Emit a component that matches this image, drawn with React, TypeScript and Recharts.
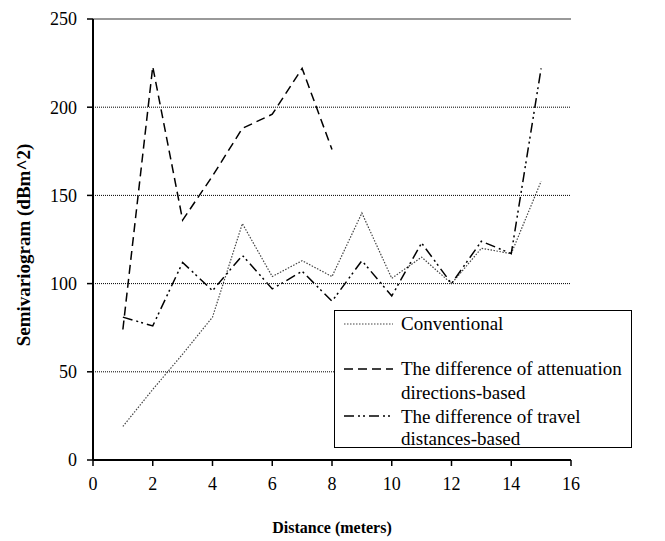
import React from "react";
import {
  LineChart,
  Line,
  XAxis,
  YAxis,
  CartesianGrid,
  ReferenceLine,
  Legend,
} from "recharts";

// Lag distances (meters)
const distances = [1, 2, 3, 4, 5, 6, 7, 8, 9, 10, 11, 12, 13, 14, 15];

// Semivariogram values (dBm^2) per method
const conventional = [19, 40, 60, 81, 134, 104, 113, 104, 140, 103, 115, 100, 120, 117, 158];
const attenuationBased = [74, 223, 136, 161, 188, 196, 222, 176];
const travelBased = [81, 76, 112, 96, 116, 97, 107, 90, 113, 93, 123, 100, 124, 117, 222];

const xTicks = [0, 2, 4, 6, 8, 10, 12, 14, 16];
const yTicks = [0, 50, 100, 150, 200, 250];

const seriesNames = {
  conventional: "Conventional",
  attenuation: ["The difference of attenuation", "directions-based"],
  travel: ["The difference of travel", "distances-based"],
};

const data = distances.map((d, i) => ({
  distance: d,
  conventional: conventional[i],
  attenuation: i < attenuationBased.length ? attenuationBased[i] : null,
  travel: travelBased[i],
}));

const FONT = "'Liberation Serif', 'Times New Roman', serif";

const DOTTED = "1.5 1.5";
const DASHED = "9 5";
const DASH_DOT_DOT = "10 4 2 3 2 4";

const YLabel = () => (
  <text
    x={0}
    y={0}
    transform="translate(30,245) rotate(-90)"
    textAnchor="middle"
    fontFamily={FONT}
    fontWeight="bold"
    fontSize={19}
    fill="#000"
  >
    Semivariogram (dBm^2)
  </text>
);

const LegendBox = () => {
  const textStyle: React.CSSProperties = {
    position: "absolute",
    left: 66,
    fontFamily: FONT,
    fontSize: 19,
    lineHeight: "22px",
    color: "#000",
    whiteSpace: "nowrap",
  };
  return (
    <div
      style={{
        position: "relative",
        width: 298,
        height: 138,
        border: "1.5px solid #000",
        background: "#fff",
        boxSizing: "border-box",
      }}
    >
      <svg width={60} height={138} style={{ position: "absolute", left: 0, top: 0 }}>
        <line x1={9} x2={58} y1={13} y2={13} stroke="#444" strokeWidth={1.2} strokeDasharray={DOTTED} />
        <line x1={9} x2={58} y1={58} y2={58} stroke="#000" strokeWidth={1.5} strokeDasharray={DASHED} />
        <line x1={9} x2={58} y1={105} y2={105} stroke="#000" strokeWidth={1.5} strokeDasharray={DASH_DOT_DOT} />
      </svg>
      <div style={{ ...textStyle, top: 2 }}>{seriesNames.conventional}</div>
      <div style={{ ...textStyle, top: 47 }}>{seriesNames.attenuation[0]}</div>
      <div style={{ ...textStyle, top: 71 }}>{seriesNames.attenuation[1]}</div>
      <div style={{ ...textStyle, top: 95 }}>{seriesNames.travel[0]}</div>
      <div style={{ ...textStyle, top: 117 }}>{seriesNames.travel[1]}</div>
    </div>
  );
};

export default function App() {
  const tickStyle = { fontFamily: FONT, fontSize: 18, fill: "#000" };
  return (
    <div style={{ position: "absolute", left: 0, top: 0, background: "#fff" }}>
      <LineChart
        width={665}
        height={541}
        data={data}
        margin={{ top: 19, right: 94, bottom: 0, left: 0 }}
      >
        <CartesianGrid
          vertical={false}
          horizontalValues={[50, 100, 150, 200]}
          stroke="#000"
          strokeDasharray="1 1"
        />
        <ReferenceLine y={250} stroke="#999" strokeWidth={2} ifOverflow="extendDomain" />
        <XAxis
          dataKey="distance"
          type="number"
          domain={[0, 16]}
          ticks={xTicks}
          interval={0}
          height={81}
          tickSize={6}
          tickMargin={11}
          tick={tickStyle}
          axisLine={{ stroke: "#000", strokeWidth: 2 }}
          tickLine={{ stroke: "#000", strokeWidth: 1.5 }}
          label={{
            value: "Distance (meters)",
            position: "insideBottom",
            offset: 8,
            style: { fontFamily: FONT, fontWeight: "bold", fontSize: 16, fill: "#000" },
          }}
        />
        <YAxis
          type="number"
          domain={[0, 250]}
          ticks={yTicks}
          interval={0}
          width={93}
          tickSize={6}
          tickMargin={10}
          tick={tickStyle}
          axisLine={{ stroke: "#000", strokeWidth: 2 }}
          tickLine={{ stroke: "#000", strokeWidth: 1.5 }}
          label={<YLabel />}
        />
        <Legend
          layout="vertical"
          align="center"
          verticalAlign="middle"
          content={<LegendBox />}
          wrapperStyle={{ position: "absolute", left: 334, top: 310, width: 298, height: 138 }}
        />
        <Line
          dataKey="conventional"
          name={seriesNames.conventional}
          stroke="#444"
          strokeWidth={1.2}
          strokeDasharray={DOTTED}
          dot={false}
          activeDot={false}
          isAnimationActive={false}
        />
        <Line
          dataKey="attenuation"
          name={seriesNames.attenuation.join(" ")}
          stroke="#000"
          strokeWidth={1.5}
          strokeDasharray={DASHED}
          dot={false}
          activeDot={false}
          connectNulls={false}
          isAnimationActive={false}
        />
        <Line
          dataKey="travel"
          name={seriesNames.travel.join(" ")}
          stroke="#000"
          strokeWidth={1.5}
          strokeDasharray={DASH_DOT_DOT}
          dot={false}
          activeDot={false}
          isAnimationActive={false}
        />
      </LineChart>
    </div>
  );
}
